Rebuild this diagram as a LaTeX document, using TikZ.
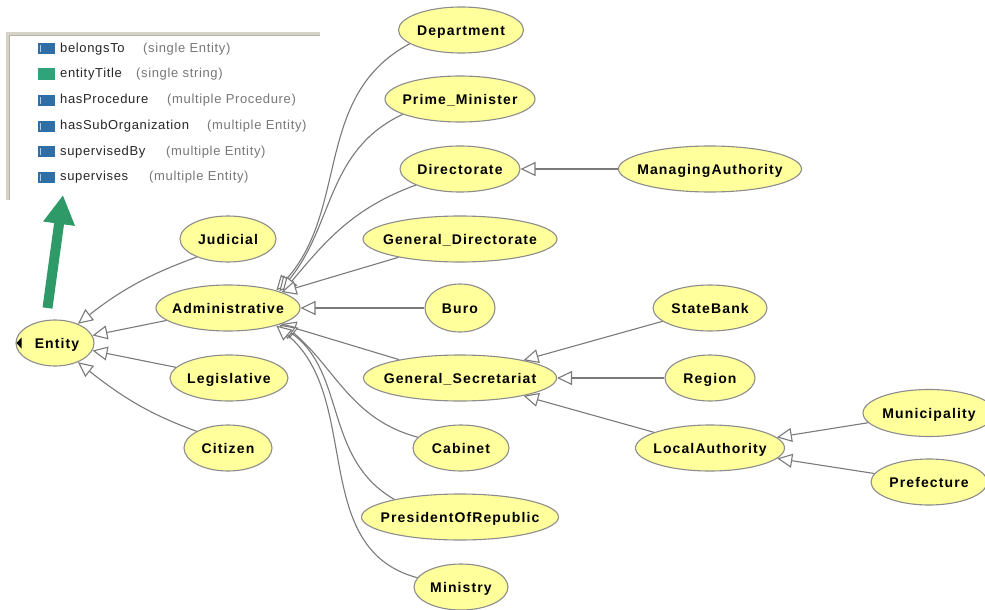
\documentclass[tikz,border=0pt]{standalone}
\usepackage{fontspec}
\setmainfont{Liberation Sans}
\newfontfamily\nodefont[LetterSpace=8]{Liberation Sans}
\newfontfamily\legfont[LetterSpace=5]{Liberation Sans}
\usetikzlibrary{shapes.geometric,arrows.meta}
\definecolor{nodefill}{HTML}{FFFF9C}
\definecolor{nodeline}{HTML}{8C8C8C}
\definecolor{edgecol}{HTML}{7A7A7A}
\definecolor{propblue}{HTML}{2F6FA6}
\definecolor{propgreen}{HTML}{2FA37A}
\definecolor{arrowgreen}{HTML}{2E9A68}
\definecolor{framecol}{HTML}{D6D2C6}
\definecolor{framedark}{HTML}{B4B1A8}
\definecolor{leggray}{HTML}{777777}
\newcommand\cname[1]{\makebox[0pt]{#1}}
\begin{document}
\begin{tikzpicture}[x=1pt,y=-1pt,
  cls/.style={ellipse, draw=nodeline, line width=1.1pt, fill=nodefill, inner sep=0pt,
    minimum height=46pt, text height=10.5pt, text depth=0pt,
    font=\nodefont\bfseries\fontsize{14}{16}\selectfont},
  isa/.style={draw=edgecol, line width=1.1pt, -{Triangle[open, length=15pt, width=14pt, fill=white]}},
  legname/.style={anchor=mid west, inner sep=0pt, font=\legfont\fontsize{13}{15}\selectfont, text=black!85},
  legtype/.style={anchor=mid west, inner sep=0pt, font=\legfont\fontsize{13}{15}\selectfont, text=leggray},
  icon/.style={fill=propblue},
]
\useasboundingbox (0,0) rectangle (985,610);
\fill[white] (0,0) rectangle (985,610);
\clip (0,0) rectangle (985,610);

% legend panel frame
\draw[framecol, line width=3pt] (6,34) -- (320,34);
\draw[framecol, line width=3pt] (7.5,34) -- (7.5,200);
\draw[framedark, line width=0.6pt] (9,35.8) -- (320,35.8);
\draw[framedark, line width=0.6pt] (9.3,35.8) -- (9.3,200);

% legend rows
\fill[icon] (38,43) rectangle (55,54);
\draw[white!65!propblue, line width=0.8pt] (40.5,45) -- (40.5,52);
\node[legname] (l1n) at (60,49.5) {belongsTo};
\node[legtype] (l1t) at (143,49.5) {(single Entity)};

\fill[propgreen] (38,68.5) rectangle (55,79.5);
\node[legname] (l2n) at (60,75) {entityTitle};
\node[legtype] (l2t) at (136,75) {(single string)};

\fill[icon] (38,94.5) rectangle (55,105.5);
\draw[white!65!propblue, line width=0.8pt] (40.5,96.5) -- (40.5,103.5);
\node[legname] (l3n) at (60,101) {hasProcedure};
\node[legtype] (l3t) at (167,101) {(multiple Procedure)};

\fill[icon] (38,120.5) rectangle (55,131.5);
\draw[white!65!propblue, line width=0.8pt] (40.5,122.5) -- (40.5,129.5);
\node[legname] (l4n) at (60,127) {hasSubOrganization};
\node[legtype] (l4t) at (207,127) {(multiple Entity)};

\fill[icon] (38,146) rectangle (55,157);
\draw[white!65!propblue, line width=0.8pt] (40.5,148) -- (40.5,155);
\node[legname] (l5n) at (60,152.5) {supervisedBy};
\node[legtype] (l5t) at (166,152.5) {(multiple Entity)};

\fill[icon] (38,171.5) rectangle (55,182.5);
\draw[white!65!propblue, line width=0.8pt] (40.5,173.5) -- (40.5,180.5);
\node[legname] (l6n) at (60,178) {supervises};
\node[legtype] (l6t) at (149,178) {(multiple Entity)};

% green arrow
\coordinate (gs) at (47.5,308);
\coordinate (ge) at (63,195);
\draw[arrowgreen, line width=10pt, -{Triangle[length=29pt,width=30pt]}] (gs) -- (ge);

% class nodes
\node[cls, minimum width=78pt] (entity) at (55,343) {\cname{\hspace*{4pt}Entity}};
\node[cls, minimum width=96pt] (judicial) at (228,239) {\cname{Judicial}};
\node[cls, minimum width=144pt] (admin) at (228,308) {\cname{Administrative}};
\node[cls, minimum width=118pt] (legis) at (229,378) {\cname{Legislative}};
\node[cls, minimum width=88pt] (citizen) at (228,448) {\cname{Citizen}};

\node[cls, minimum width=125pt] (dept) at (461,30) {\cname{Department}};
\node[cls, minimum width=150pt] (pm) at (460,99) {\cname{Prime\_Minister}};
\node[cls, minimum width=120pt] (dir) at (460,169) {\cname{Directorate}};
\node[cls, minimum width=194pt] (gdir) at (460,239) {\cname{General\_Directorate}};
\node[cls, minimum width=70pt, minimum height=48pt] (buro) at (460,308) {\cname{Buro}};
\node[cls, minimum width=193pt] (gsec) at (460,378) {\cname{General\_Secretariat}};
\node[cls, minimum width=96pt] (cab) at (461,448) {\cname{Cabinet}};
\node[cls, minimum width=197pt] (pres) at (460,517) {\cname{PresidentOfRepublic}};
\node[cls, minimum width=94pt] (mini) at (461,587) {\cname{Ministry}};

\node[cls, minimum width=183pt] (mgauth) at (710,169) {\cname{ManagingAuthority}};
\node[cls, minimum width=114pt] (sbank) at (710,308) {\cname{StateBank}};
\node[cls, minimum width=90pt] (region) at (710,378) {\cname{Region}};
\node[cls, minimum width=149pt] (local) at (710,448) {\cname{LocalAuthority}};
\node[cls, minimum width=132pt, minimum height=47pt] (munic) at (929,413) {\cname{Municipality}};
\node[cls, minimum width=116pt] (pref) at (929,482) {\cname{Prefecture}};

% small black marker in Entity
\fill[black] (16.5,343) -- (21.5,337.5) -- (21.5,348.5) -- cycle;

% edges to Entity
\draw[isa] (judicial.210) to[out=200,in=38] (entity.40);
\draw[isa] (admin) -- (entity);
\draw[isa] (legis) -- (entity);
\draw[isa] (citizen.152) to[out=160,in=-38] (entity.-40);

% edges to Administrative
\draw[isa] (dept.195) to[out=208,in=48] (admin.20);
\draw[isa] (pm.195) to[out=205,in=50] (admin.18);
\draw[isa] (dir.200) to[out=200,in=50] (admin.16);
\draw[isa] (gdir) -- (admin);
\draw[isa] (buro) -- (admin);
\draw[isa] (gsec) -- (admin);
\draw[isa] (cab.166) to[out=165,in=-40] (admin.-16);
\draw[isa] (pres.165) to[out=150,in=-35] (admin.-18);
\draw[isa] (mini.168) to[out=165,in=-40] (admin.-20);

% other edges
\draw[isa] (mgauth) -- (dir);
\draw[isa] (sbank) -- (gsec);
\draw[isa] (region) -- (gsec);
\draw[isa] (local) -- (gsec);
\draw[isa] (munic) -- (local);
\draw[isa] (pref) -- (local);
\end{tikzpicture}
\end{document}
